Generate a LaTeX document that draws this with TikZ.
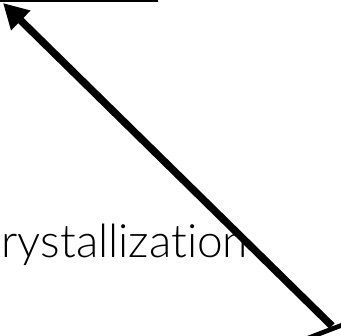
\documentclass[tikz,border=0pt]{standalone}
\usepackage{fontspec}
\newfontfamily\labelfont[Ligatures={NoCommon, NoContextual}]{Lato Light}
\usetikzlibrary{arrows.meta, positioning}
\tikzset{
  every picture/.style={line width=1.2pt},
  label text/.style={font=\labelfont\fontsize{46}{50}\selectfont, inner sep=0pt, anchor=base west},
  bigarrow/.style={-{Triangle[length=25pt, width=26pt]}, line width=7.5pt},
  topline/.style={line width=2.6pt},
}
\begin{document}
\begin{tikzpicture}[x=1pt, y=-1pt]
  \useasboundingbox (0,0) rectangle (341,336);
  % cropped rule at the top
  \coordinate (rule west) at (0,1.2);
  \coordinate (rule east) at (158,1.2);
  \draw[topline] (rule west) -- (rule east);
  % label, cut at the left edge
  \node[label text] (cryst) at (1,258) {rystallization};
  % long arrow
  \coordinate (tail) at (332,326);
  \coordinate (tip) at (3,3);
  \draw[bigarrow] (tail) -- (tip);
  % piece of a shape at the lower right
  \fill (307,336) -- (341,323) -- (341,328) -- (320,336) -- cycle;
\end{tikzpicture}
\end{document}
